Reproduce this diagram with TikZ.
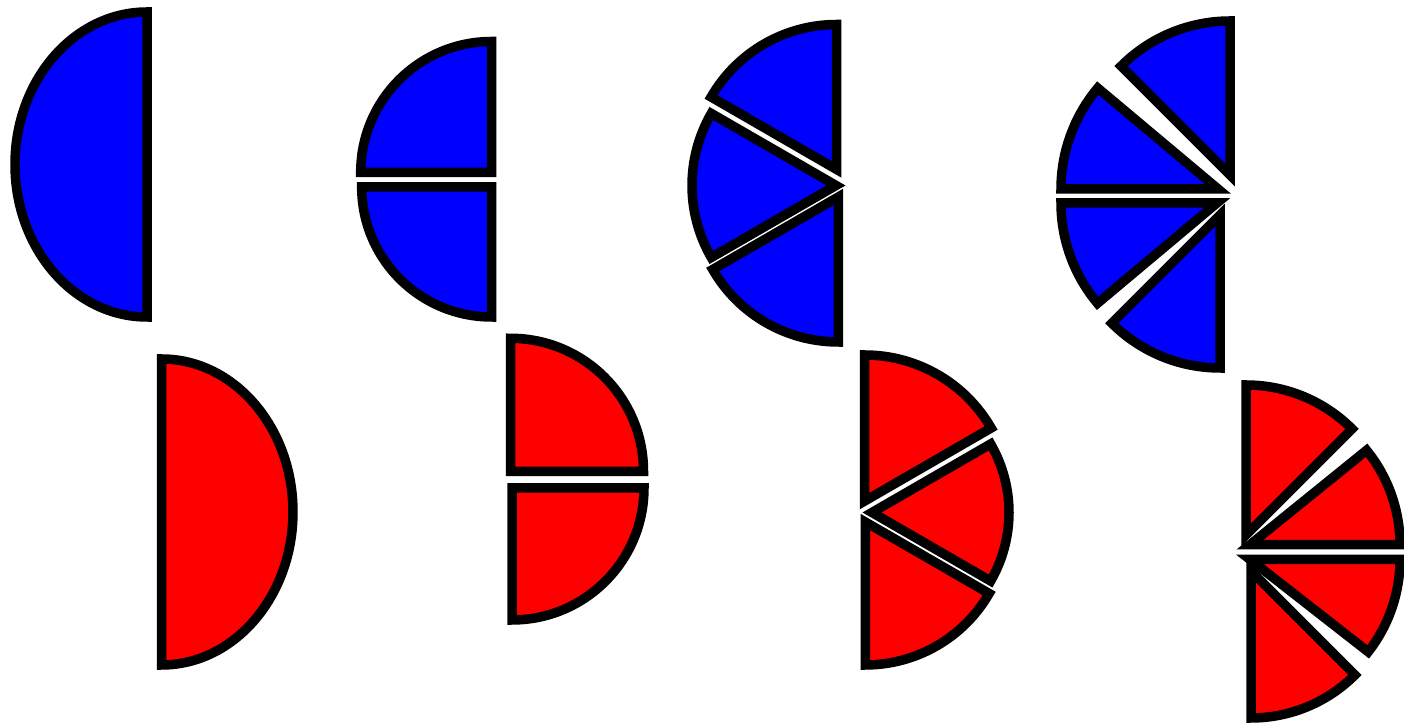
\documentclass[tikz,border=0pt]{standalone}
\usepackage{xcolor}
\usepackage{tikz}
\definecolor{mPureBlue}{HTML}{0000FF}
\definecolor{mPureRed}{HTML}{FF0000}

\begin{document}
\begin{tikzpicture}[x=0.02cm, y=0.02cm, piece/.style={draw=black, line width=0.19cm, line join=miter}]
            \useasboundingbox (0,0) rectangle (1404,726);
            % whole halves
            \filldraw[piece, fill=mPureBlue] (147,714) arc[start angle=90, end angle=270, x radius=132, y radius=152.5] -- cycle;
            \filldraw[piece, fill=mPureRed] (161.5,61) arc[start angle=-90, end angle=90, x radius=131.5, y radius=153] -- cycle;
            % cut in two
            \filldraw[piece, fill=mPureBlue] (491.7,553.5) -- ++(90:131) arc[start angle=90, end angle=180, radius=131] -- cycle;
            \filldraw[piece, fill=mPureBlue] (491.7,539) -- ++(180:130) arc[start angle=180, end angle=270, radius=130] -- cycle;
            \filldraw[piece, fill=mPureRed] (510.5,254.7) -- ++(0:133) arc[start angle=0, end angle=90, radius=133] -- cycle;
            \filldraw[piece, fill=mPureRed] (512,238) -- ++(-90:132) arc[start angle=-90, end angle=0, radius=132] -- cycle;
            % cut in three
            \filldraw[piece, fill=mPureBlue] (836.7,556.5) -- ++(90:145) arc[start angle=90, end angle=150, radius=145] -- cycle;
            \filldraw[piece, fill=mPureBlue] (836,540.5) -- ++(150:144) arc[start angle=150, end angle=210, radius=144] -- cycle;
            \filldraw[piece, fill=mPureBlue] (838.3,529) -- ++(210:145) arc[start angle=210, end angle=270, radius=145] -- cycle;
            \filldraw[piece, fill=mPureRed] (864.7,225) -- ++(30:146) arc[start angle=30, end angle=90, radius=146] -- cycle;
            \filldraw[piece, fill=mPureRed] (872,213.5) -- ++(-30:137) arc[start angle=-30, end angle=30, radius=137] -- cycle;
            \filldraw[piece, fill=mPureRed] (865.3,204) -- ++(-90:143) arc[start angle=-90, end angle=-30, radius=143] -- cycle;
            % cut in four
            \filldraw[piece, fill=mPureBlue] (1230,551) -- ++(90:154) arc[start angle=90, end angle=135, radius=154] -- cycle;
            \filldraw[piece, fill=mPureBlue] (1218,537) -- ++(140:157) arc[start angle=140, end angle=180, radius=157] -- cycle;
            \filldraw[piece, fill=mPureBlue] (1217,523) -- ++(180:156) arc[start angle=180, end angle=220, radius=156] -- cycle;
            \filldraw[piece, fill=mPureBlue] (1220,511) -- ++(225:153) arc[start angle=225, end angle=270, radius=153] -- cycle;
            \filldraw[piece, fill=mPureRed] (1246,191) -- ++(45:150) arc[start angle=45, end angle=90, radius=150] -- cycle;
            \filldraw[piece, fill=mPureRed] (1250,181.3) -- ++(0:150) arc[start angle=0, end angle=39, radius=150] -- cycle;
            \filldraw[piece, fill=mPureRed] (1250,166.5) -- ++(-38:150) arc[start angle=-38, end angle=0, radius=150] -- cycle;
            \filldraw[piece, fill=mPureRed] (1251,155) -- ++(-90:147) arc[start angle=-90, end angle=-45, radius=147] -- cycle;
\end{tikzpicture}
\end{document}
